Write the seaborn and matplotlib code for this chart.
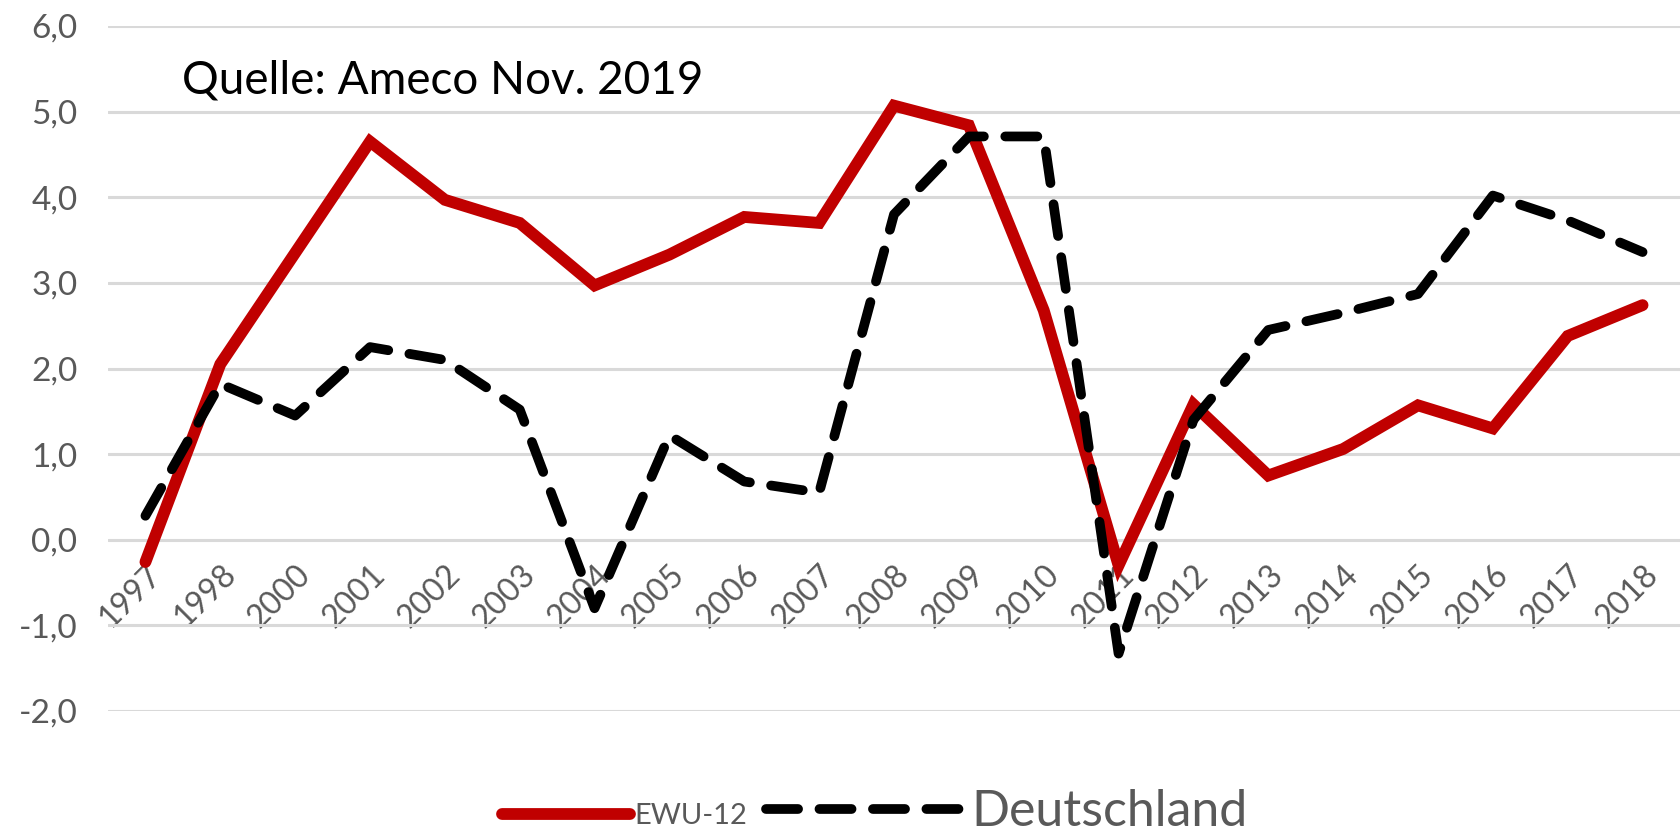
import numpy as np
import pandas as pd
import matplotlib
matplotlib.use('Agg')
import matplotlib.pyplot as plt
import seaborn as sns
from matplotlib.lines import Line2D

sns.set_theme(style="white")
plt.rcParams['font.family'] = ['Lato', 'DejaVu Sans']

# Daten
years = ['1997', '1998', '2000', '2001', '2002', '2003', '2004', '2005', '2006', '2007', '2008',
         '2009', '2010', '2011', '2012', '2013', '2014', '2015', '2016', '2017', '2018']
ewu12 = [-0.26, 2.05, 3.35, 4.65, 3.97, 3.70, 2.97, 3.33, 3.77, 3.70, 5.07,
         4.84, 2.68, -0.30, 1.58, 0.75, 1.06, 1.57, 1.30, 2.38, 2.74]
deutschland = [0.28, 1.82, 1.45, 2.25, 2.10, 1.52, -0.80, 1.22, 0.68, 0.55, 3.80,
               4.71, 4.71, -1.33, 1.40, 2.45, 2.65, 2.87, 4.02, 3.73, 3.36]
y_ticks = [-2, -1, 0, 1, 2, 3, 4, 5, 6]
y_labels = ['-2,0', '-1,0', '0,0', '1,0', '2,0', '3,0', '4,0', '5,0', '6,0']

df = pd.DataFrame({'Jahr': years, 'EWU-12': ewu12, 'Deutschland': deutschland})

W, H = 1681, 832
fig = plt.figure(figsize=(W / 100, H / 100), dpi=100)
ax = fig.add_axes([108 / W, 1 - 711 / H, (1680 - 108) / W, (711 - 26) / H])

red = '#c00000'
sns.lineplot(data=df, x='Jahr', y='EWU-12', ax=ax, color=red, lw=8.5,
             solid_capstyle='round', solid_joinstyle='miter', sort=False, zorder=3)
sns.lineplot(data=df, x='Jahr', y='Deutschland', ax=ax, color='black', lw=7,
             sort=False, zorder=4)
ax.lines[1].set_dashes((3.3, 2.2))
ax.lines[1].set_dash_capstyle('round')
ax.lines[1].set_dash_joinstyle('round')

ax.set_xlim(-0.5, len(years) - 0.5)
ax.set_ylim(-2, 6)
ax.set_yticks(y_ticks)
ax.set_yticklabels(y_labels)
ax.yaxis.grid(True, color='#d9d9d9', lw=2.2)
ax.set_axisbelow(True)
for s in ax.spines.values():
    s.set_visible(False)
ax.spines['bottom'].set_position(('data', 0))
ax.set_xlabel('')
ax.set_ylabel('')
ax.tick_params(axis='y', length=0, pad=22, labelsize=24, labelcolor='#595959')
ax.tick_params(axis='x', length=0, pad=14, labelsize=23, labelcolor='#595959')
for lab in ax.get_xticklabels():
    lab.set_rotation(45)
    lab.set_ha('right')
    lab.set_va('top')
    lab.set_rotation_mode('anchor')

fig.text(182 / W, 1 - 80 / H, 'Quelle: Ameco Nov. 2019', fontsize=33, color='black',
         va='center', ha='left')

# Legende (zwei Teile, unterschiedliche Schriftgrößen wie im Original)
h1 = Line2D([], [], color=red, lw=8.5, solid_capstyle='round')
h2 = Line2D([], [], color='black', lw=7, dashes=(3.3, 2.2), dash_capstyle='round')
leg1 = fig.legend([h1], ['EWU-12'], loc='center left', bbox_to_anchor=(502 / W, 1 - 816 / H),
                  frameon=False, fontsize=21, handlelength=4.4, handletextpad=0.15,
                  borderpad=0, borderaxespad=0)
leg2 = fig.legend([h2], ['Deutschland'], loc='center left', bbox_to_anchor=(766 / W, 1 - 812 / H),
                  frameon=False, fontsize=36, handlelength=3.9, handletextpad=0.2,
                  borderpad=0, borderaxespad=0)
for leg in (leg1, leg2):
    for t in leg.get_texts():
        t.set_color('#595959')

fig.savefig('out.png', dpi=100, facecolor='white')
